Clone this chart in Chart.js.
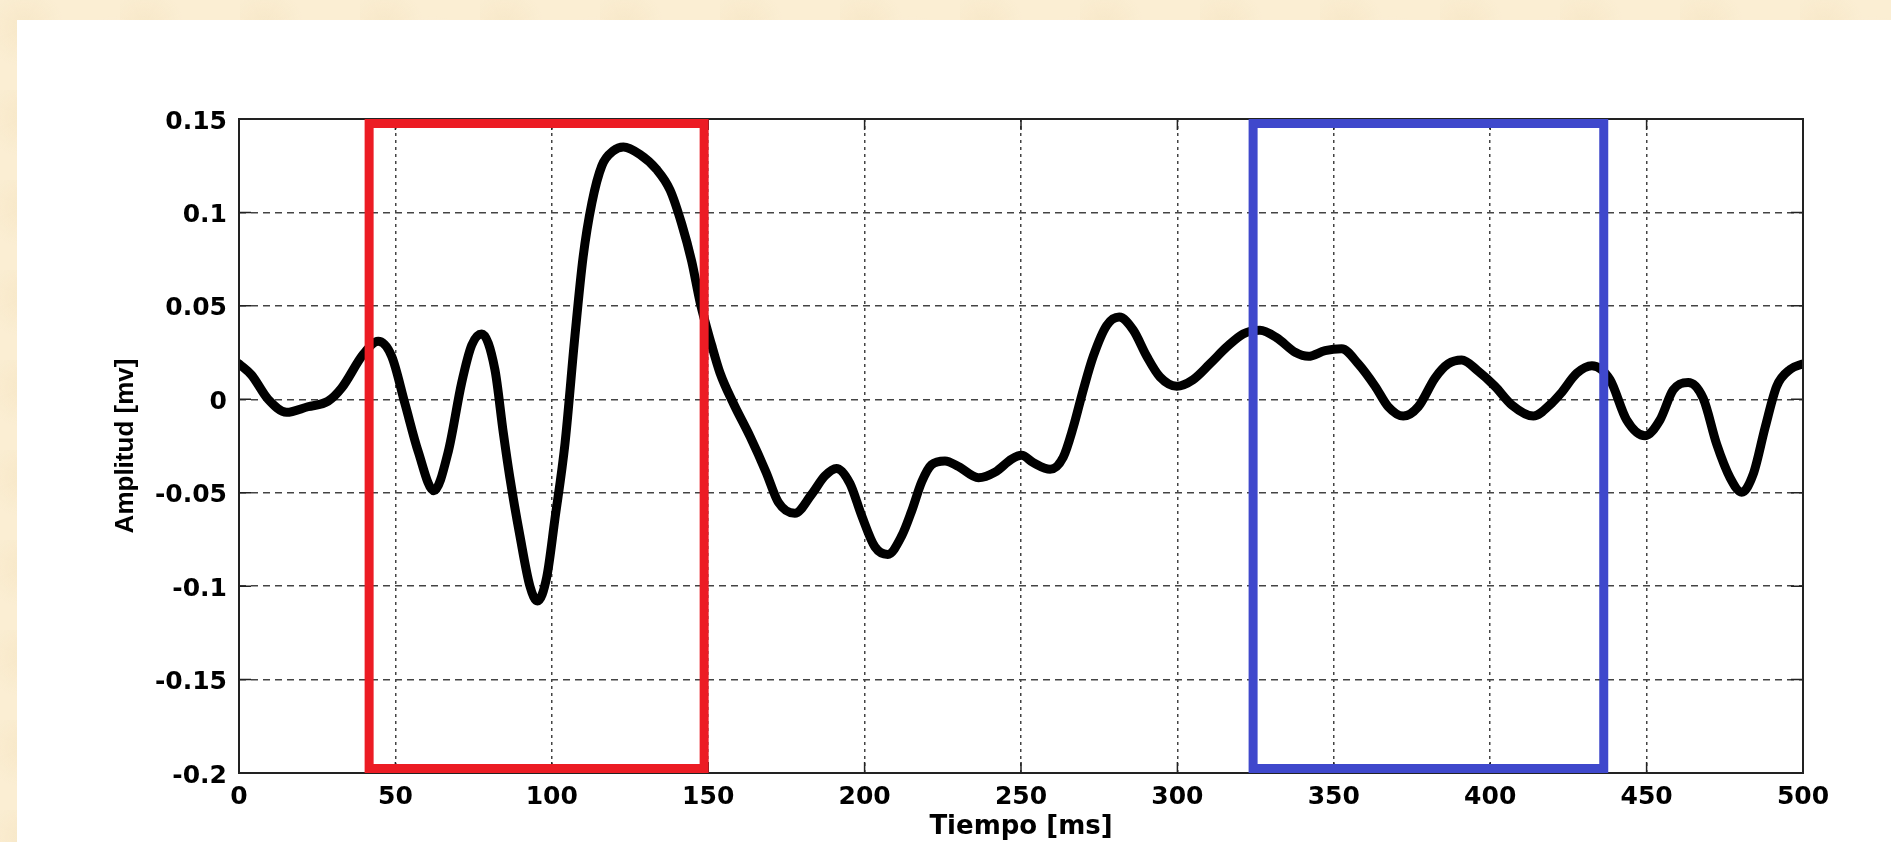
<!DOCTYPE html>
<html>
<head>
<meta charset="utf-8">
<script src="https://cdn.jsdelivr.net/npm/chart.js@4.4.1/dist/chart.umd.min.js"></script>
<style>
  html, body { margin: 0; padding: 0; width: 1891px; height: 842px; overflow: hidden; }
  body {
    background-color: #fbeed3;
    background-image:
      radial-gradient(circle at 20% 30%, rgba(240, 220, 180, 0.35) 0, transparent 40px),
      radial-gradient(circle at 70% 60%, rgba(255, 250, 235, 0.4) 0, transparent 50px);
    background-size: 120px 90px, 160px 110px;
  }
  #panel { position: absolute; left: 17px; top: 20px; width: 1874px; height: 822px; background: #fff; }
</style>
</head>
<body>
<div id="panel"><canvas id="myChart"></canvas></div>
<script>
const ctx = document.getElementById('myChart').getContext('2d');

// tiempo [ms] y amplitud [mv]
const tiempo = [
    0, 4, 9.3, 15.2, 22, 28.5, 32.8, 39.7, 44.5, 48.8,
    53, 57.3, 62.3, 66.9, 71.2, 74.4, 77.6, 81.8, 84.5, 86.6,
    89.8, 93, 95.4, 98.4, 101, 104.2, 107.4, 110, 112.8, 116,
    119.7, 122.9, 128.2, 133.5, 137.8, 141.5, 144.7, 147.4, 151.1, 153.8,
    158, 163.4, 168.5, 172.4, 177.7, 183, 187.3, 191, 195.3, 199,
    203.3, 207.4, 211.9, 215, 218.3, 221.4, 225.7, 230, 236.4, 241.7,
    247, 250.2, 254, 259.3, 263.5, 266.7, 269.9, 273.1, 277.4, 281.4,
    285.9, 290.2, 294.4, 299.8, 305, 310.4, 315.8, 321, 326.4, 331.7,
    337.8, 341.9, 347.2, 352.5, 357.8, 363.2, 367.4, 372.2, 377, 382.4,
    386.6, 390.9, 396.2, 401.5, 406.9, 413.8, 419.7, 422.5, 427.7, 432.5,
    438.3, 443.6, 449.5, 454.3, 458.5, 463.3, 468.1, 472.4, 476.7, 480.4,
    484.1, 487.9, 491.6, 495.9, 500
];
const amplitud = [
    0.019, 0.013, 0.0, -0.007, -0.004, -0.001, 0.006, 0.024, 0.031, 0.023,
    -0.002, -0.028, -0.049, -0.028, 0.009, 0.029, 0.035, 0.016, -0.018, -0.042,
    -0.073, -0.1, -0.108, -0.095, -0.064, -0.024, 0.034, 0.076, 0.105, 0.125,
    0.133, 0.135, 0.131, 0.123, 0.112, 0.094, 0.074, 0.052, 0.029, 0.014,
    -0.002, -0.02, -0.039, -0.055, -0.061, -0.051, -0.041, -0.037, -0.045, -0.062,
    -0.079, -0.083, -0.073, -0.06, -0.044, -0.035, -0.033, -0.036, -0.042, -0.039,
    -0.032, -0.030, -0.034, -0.0375, -0.031, -0.015, 0.005, 0.023, 0.0395, 0.044,
    0.037, 0.023, 0.012, 0.007, 0.0105, 0.019, 0.028, 0.035, 0.037, 0.033,
    0.025, 0.023, 0.026, 0.027, 0.019, 0.007, -0.004, -0.009, -0.004, 0.0115,
    0.019, 0.021, 0.015, 0.007, -0.003, -0.009, -0.002, 0.003, 0.014, 0.018,
    0.0105, -0.011, -0.0195, -0.011, 0.005, 0.009, 0.0005, -0.024, -0.042, -0.0497,
    -0.04, -0.015, 0.007, 0.016, 0.019
];

const xTicks = [0, 50, 100, 150, 200, 250, 300, 350, 400, 450, 500];
const yTicks = [-0.2, -0.15, -0.1, -0.05, 0, 0.05, 0.1, 0.15];

// ventanas marcadas [inicio, fin] en ms
const ventanaRoja = [41.6, 148.7];
const ventanaAzul = [324.2, 436.3];

const tickFont = { family: 'DejaVu Sans', weight: 'bold', size: 25 };

// marco, marcas internas y ventanas de color
const framePlugin = {
    id: 'frame',
    afterDatasetsDraw(chart) {
        const { ctx, chartArea: a, scales: { x, y } } = chart;
        ctx.save();
        ctx.strokeStyle = '#222';
        ctx.lineWidth = 2;
        ctx.strokeRect(a.left, a.top, a.right - a.left, a.bottom - a.top);

        ctx.lineWidth = 1.5;
        ctx.beginPath();
        xTicks.forEach(v => {
            const px = x.getPixelForValue(v);
            ctx.moveTo(px, a.bottom); ctx.lineTo(px, a.bottom - 11);
            ctx.moveTo(px, a.top); ctx.lineTo(px, a.top + 11);
        });
        yTicks.forEach(v => {
            const py = y.getPixelForValue(v);
            ctx.moveTo(a.left, py); ctx.lineTo(a.left + 12, py);
            ctx.moveTo(a.right, py); ctx.lineTo(a.right - 12, py);
        });
        ctx.stroke();

        const box = (range, color) => {
            const lw = 9;
            const l = x.getPixelForValue(range[0]);
            const r = x.getPixelForValue(range[1]);
            const t = y.getPixelForValue(y.max) + lw / 2;
            const b = y.getPixelForValue(y.min) - lw / 2;
            ctx.strokeStyle = color;
            ctx.lineWidth = lw;
            ctx.lineJoin = 'miter';
            ctx.strokeRect(l, t, r - l, b - t);
        };
        box(ventanaRoja, '#ec1c24');
        box(ventanaAzul, '#3f48cc');
        ctx.restore();
    }
};

const chart = new Chart(ctx, {
    type: 'line',
    data: {
        datasets: [
            {
                label: 'Amplitud',
                data: tiempo.map((t, i) => ({ x: t, y: amplitud[i] })),
                borderColor: '#000',
                borderWidth: 9,
                borderCapStyle: 'round',
                borderJoinStyle: 'round',
                cubicInterpolationMode: 'monotone',
                pointRadius: 0,
                fill: false,
            }
        ]
    },
    options: {
        responsive: true,
        maintainAspectRatio: false,
        animation: false,
        layout: { padding: { left: 0, top: 99, right: 88, bottom: 0 } },
        plugins: {
            legend: { display: false },
            tooltip: { enabled: false }
        },
        scales: {
            x: {
                type: 'linear',
                min: 0,
                max: 500,
                afterBuildTicks: (scale) => { scale.ticks = xTicks.map(v => ({ value: v })); },
                afterFit: (scale) => { scale.height = 69; },
                ticks: { color: '#000', font: tickFont, padding: 9, maxRotation: 0 },
                grid: { color: '#444', lineWidth: 1.5, drawTicks: false },
                border: { display: false, dash: [3, 4] },
                title: {
                    display: true,
                    text: 'Tiempo [ms]',
                    color: '#000',
                    font: { family: 'DejaVu Sans', weight: 'bold', size: 26, lineHeight: 1.1 },
                    padding: { top: 0, bottom: 0 }
                }
            },
            y: {
                min: -0.2,
                max: 0.15,
                afterBuildTicks: (scale) => { scale.ticks = yTicks.map(v => ({ value: v })); },
                afterFit: (scale) => { scale.width = 222; },
                ticks: {
                    color: '#000',
                    font: tickFont,
                    padding: 12,
                    labelOffset: 3,
                    callback: (v) => String(Math.round(v * 100) / 100)
                },
                grid: { color: '#444', lineWidth: 1.5, drawTicks: false },
                border: { display: false, dash: [7, 5] },
                title: {
                    display: true,
                    text: 'Amplitud [mv]',
                    color: '#000',
                    font: { family: 'Liberation Sans', weight: 'bold', size: 26 },
                    padding: { top: 93, bottom: 0 }
                }
            }
        }
    },
    plugins: [framePlugin]
});
</script>
</body>
</html>
